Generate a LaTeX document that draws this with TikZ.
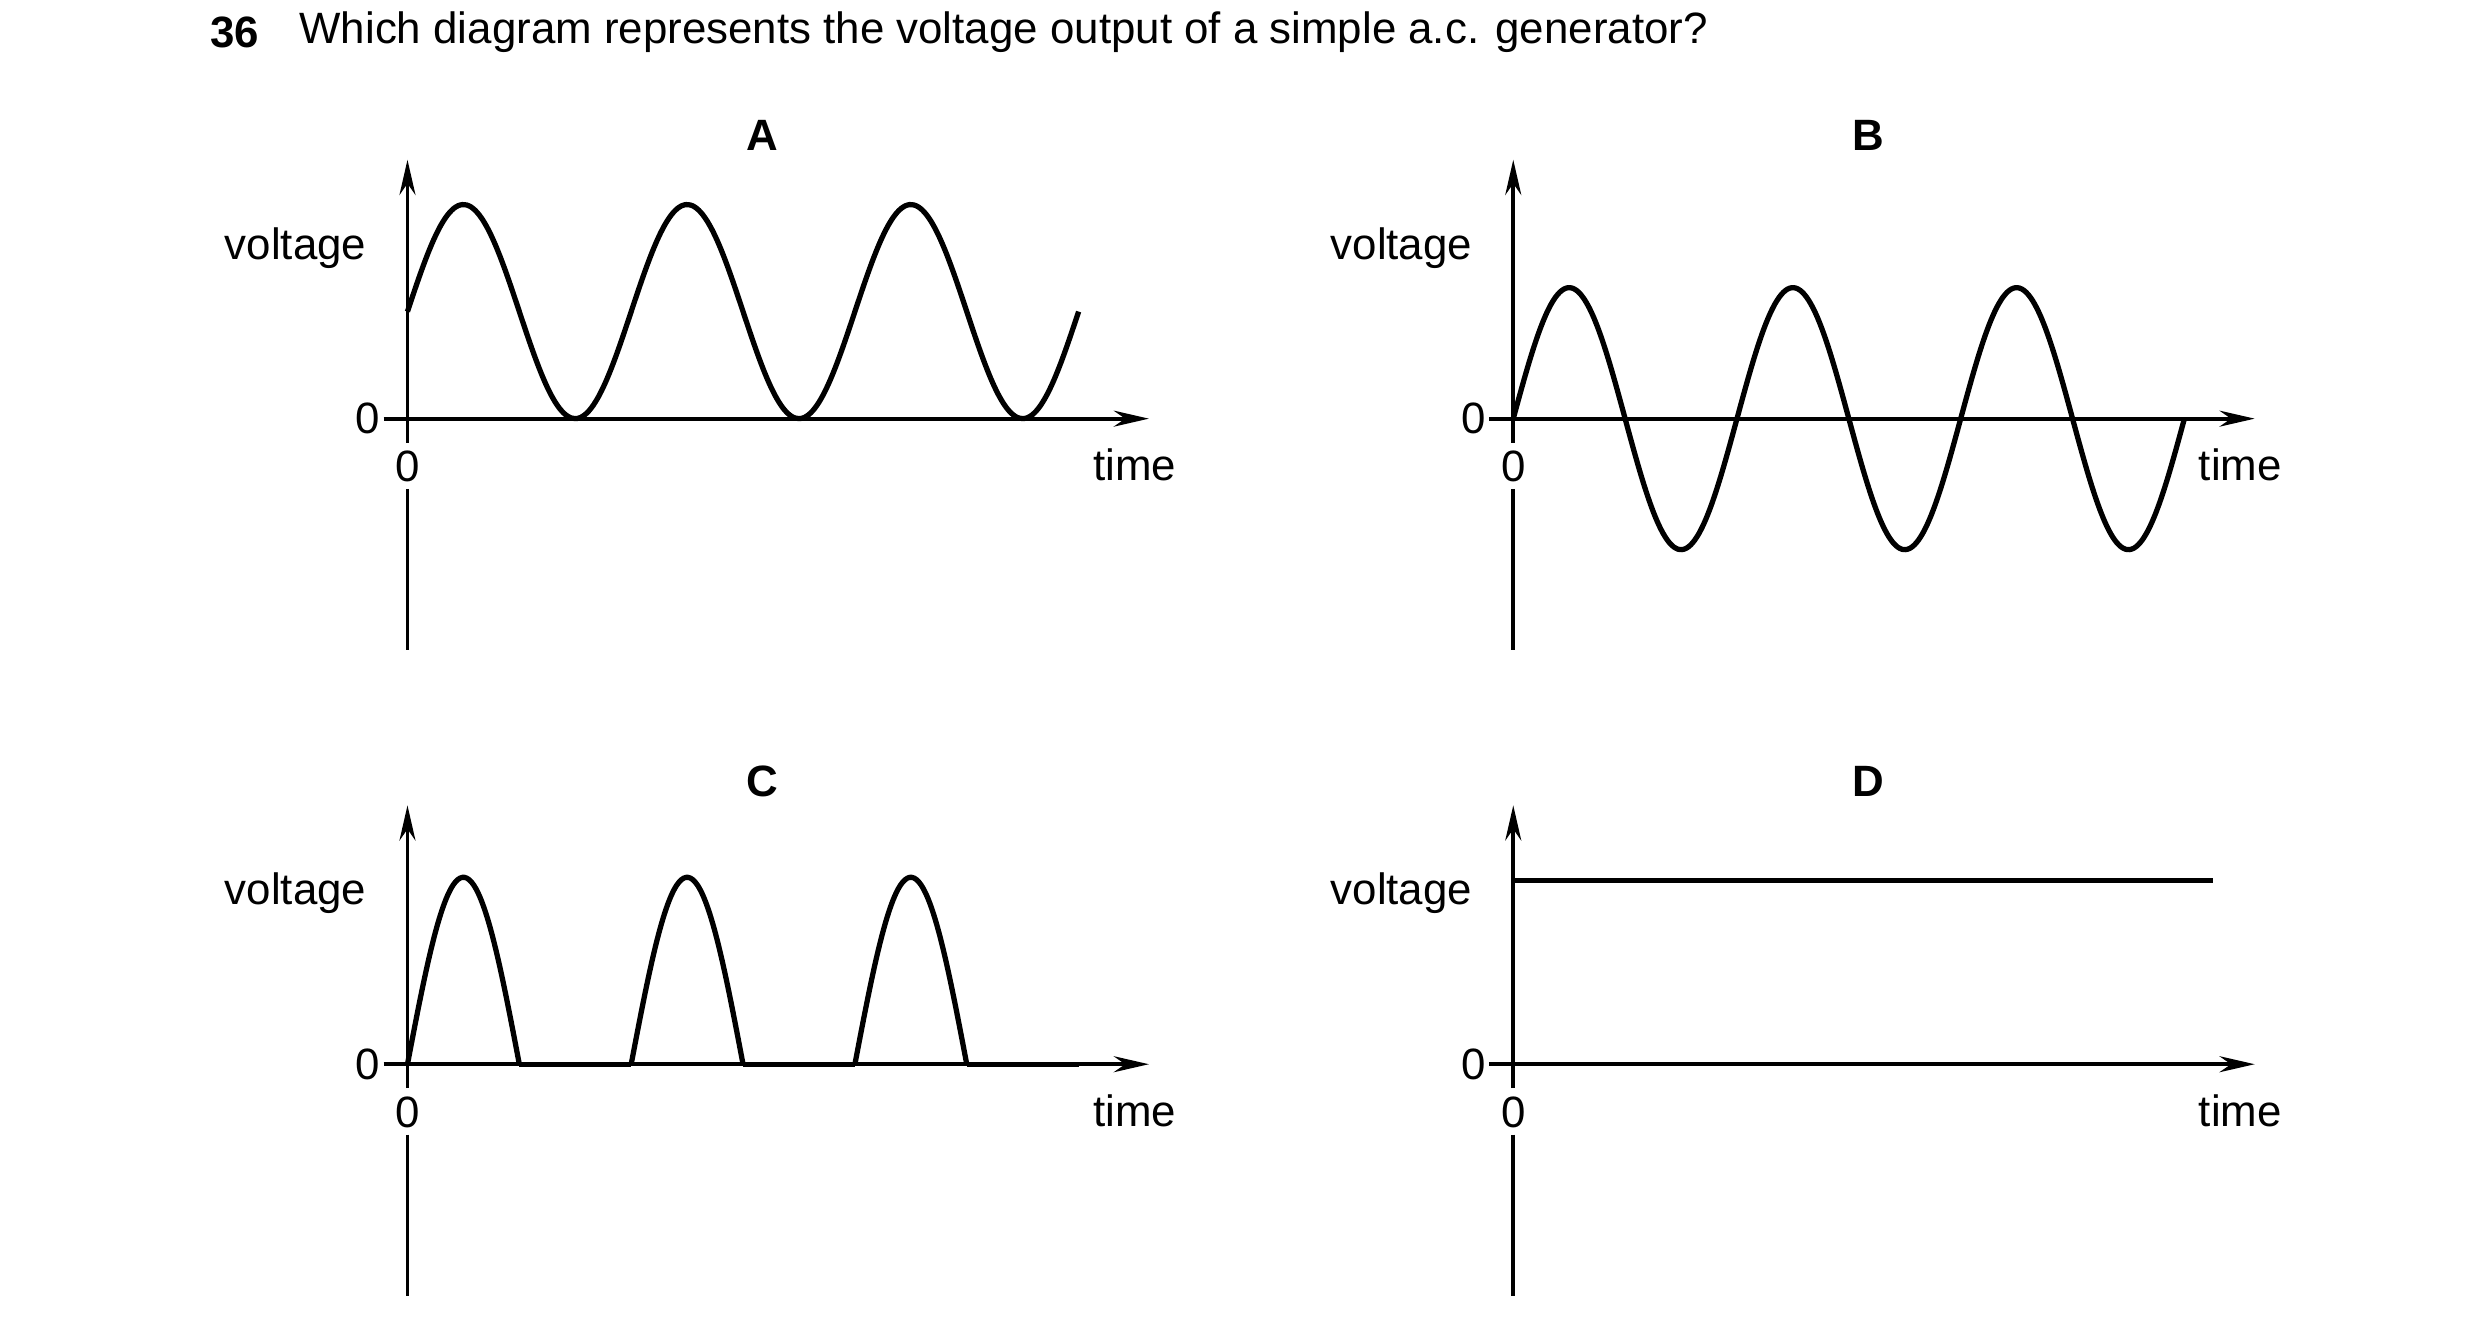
\documentclass[tikz,border=0pt]{standalone}
\usepackage{fontspec}
\setmainfont{Liberation Sans}
\usetikzlibrary{arrows.meta}
\tikzstyle{axis} = [line width=1.1pt, -{Stealth[length=22*0.016cm, width=10*0.016cm]}]
\tikzstyle{wave} = [line width=1.5pt, line join=round]
\tikzstyle{lbl} = [font=\fontsize{12.5}{15}\selectfont, inner sep=0pt]
\tikzstyle{head} = [font=\fontsize{12.5}{15}\selectfont\bfseries, inner sep=0pt]
% one set of axes, origin at (255,262) in local units
\newcommand{\graphaxes}[2]{%
	\node (#1title) [head] at (477,85) {#2};
	\node (#1v) [lbl] at (185,155) {voltage};
	\node (#1t) [lbl] at (710,291) {time};
	\node (#1zl) [lbl] at (230,262) {0};
	\node (#1zb) [lbl] at (255,292) {0};
	\coordinate (#1o) at (255,262);
	\coordinate (#1low) at (255,407);
	\draw [axis] (255,277) -- (255,100);
	\draw [line width=1.1pt] (255,306) -- (#1low);
	\draw [axis] (240,262) -- (719,262);
}

\begin{document}
\begin{tikzpicture}[x=0.016cm, y=-0.016cm]
	\useasboundingbox (0,0) rectangle (1552,828);
	\node (q) [head, anchor=west] at (131,20) {36};
	\node (text) [lbl, anchor=west] at (187,20) {Which diagram represents the voltage output of a simple a.c. generator?};

	\begin{scope}
		\graphaxes{a}{A}
		\draw [wave] plot [domain=255:675, samples=160, smooth] (\x,{195-67*sin((\x-255)/140*360)});
	\end{scope}
	\begin{scope}[xshift=692*0.016cm]
		\graphaxes{b}{B}
		\draw [wave] plot [domain=255:675, samples=160, smooth] (\x,{262-82*sin((\x-255)/140*360)});
	\end{scope}
	\begin{scope}[yshift=-404*0.016cm]
		\graphaxes{c}{C}
		\foreach \s in {255,395,535} {
			\draw [wave] plot [domain=\s:\s+70, samples=50, smooth] (\x,{262-117*sin((\x-\s)/70*180)});
			\draw [wave] (\s+70,262) -- (\s+140,262);
		}
	\end{scope}
	\begin{scope}[xshift=692*0.016cm, yshift=-404*0.016cm]
		\graphaxes{d}{D}
		\draw [wave] (255,147) -- (693,147);
	\end{scope}
\end{tikzpicture}
\end{document}
